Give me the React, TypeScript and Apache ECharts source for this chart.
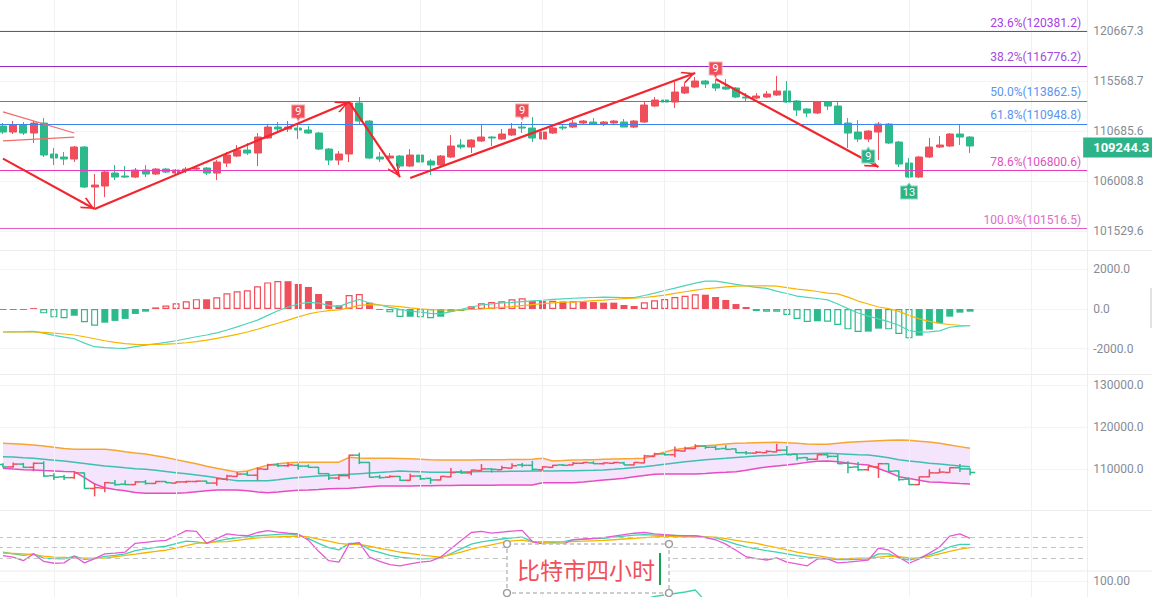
import React, { useEffect, useRef } from 'react';
import * as echarts from 'echarts';

// ---------- DATA ----------
// 4H candles: [open, close, low, high]
const candles: number[][] = [
  [111141, 110567, 110377, 111430], [110567, 111238, 110377, 111622], [111238, 110472, 110282, 111526], [110472, 111430, 109523, 111622],
  [111430, 108394, 108207, 111911], [108488, 108113, 107463, 109051], [108207, 108020, 107463, 108675], [108020, 109145, 107741, 109240],
  [109145, 105441, 105350, 109240], [105441, 105624, 103547, 106631], [105532, 106815, 104535, 106999], [106723, 106355, 106079, 107463],
  [106447, 106355, 106263, 107370], [106355, 106999, 106263, 107185], [106999, 106631, 106355, 107463], [106631, 107092, 106539, 107185],
  [107092, 106815, 106723, 107185], [106723, 106999, 106631, 107092], [106999, 107092, 106723, 107278], [107092, 107185, 106907, 107278],
  [107185, 106723, 106539, 107278], [106723, 107741, 106079, 107926], [107648, 108394, 107278, 108675], [108300, 108862, 108207, 109334],
  [108862, 108581, 108394, 109523], [108581, 110091, 107370, 110472], [109996, 111045, 109901, 111334], [111045, 110853, 110567, 111526],
  [110853, 111045, 110567, 111622], [110949, 110757, 109901, 111430], [110757, 110472, 110377, 111141], [110472, 108956, 108862, 110567],
  [108956, 107926, 107463, 109051], [107926, 108488, 107463, 108770], [108488, 113370, 107741, 113468], [113370, 111622, 111238, 113958],
  [111622, 108113, 108020, 111718], [108207, 108020, 107741, 108675], [108113, 108300, 108020, 108581], [108300, 107370, 107185, 108394],
  [107370, 108394, 107278, 108956], [108394, 107741, 107463, 108675], [107833, 107463, 106539, 108020], [107463, 108300, 107370, 108394],
  [108207, 109240, 108113, 110282], [109334, 109145, 108956, 109901], [109145, 109806, 108581, 109901], [109712, 110091, 109617, 111238],
  [110091, 109996, 109240, 110186], [109901, 110377, 109806, 110853], [110282, 110853, 110186, 111430], [111045, 110949, 110472, 111526],
  [110949, 109996, 109617, 112008], [109901, 110567, 109712, 110757], [110472, 110949, 110377, 111045], [111045, 110949, 110757, 111238],
  [111045, 111430, 110949, 111718], [111430, 111622, 111334, 111718], [111526, 111334, 111238, 111911], [111334, 111526, 111141, 111622],
  [111430, 111622, 111334, 111718], [111526, 111045, 111045, 111814], [111045, 111622, 110949, 111718], [111526, 113175, 111430, 113468],
  [113077, 113663, 112980, 113958], [113663, 113468, 113273, 113958], [113468, 114451, 112882, 115444], [114352, 114946, 114254, 115345],
  [114946, 115543, 114847, 115943], [115543, 115245, 114847, 115643], [115245, 114847, 114549, 115643], [114946, 114747, 114648, 115743],
  [114847, 113958, 113860, 114946], [113958, 113860, 113468, 114352], [113860, 114057, 113762, 114352], [113958, 114254, 113860, 114549],
  [114155, 114549, 114057, 116043], [114549, 113468, 113370, 115543], [113565, 112686, 112105, 113663], [112784, 112396, 112008, 112882],
  [112396, 113468, 112300, 113565], [113468, 113077, 112686, 113565], [113077, 111334, 111238, 113565], [111430, 110472, 109051, 111911],
  [110567, 109901, 109617, 111718], [109901, 110662, 109617, 110757], [110567, 111334, 107926, 111526], [111334, 109523, 109428, 111430],
  [109617, 107555, 107278, 109712], [107648, 106355, 106263, 108113], [106355, 108207, 106263, 108300], [108207, 109145, 108113, 109996],
  [109145, 109334, 109051, 110186], [109240, 110377, 109145, 110472], [110377, 110091, 109334, 111238], [110091, 109244.3, 108581, 110186],
];
const lastPrice = 109244.3;

const priceTicks = [101529.6, 106008.8, 110685.6, 115568.7, 120667.3];
const fibLevels = ['23.6%', '38.2%', '50.0%', '61.8%', '78.6%', '100.0%'];
const fibValues = [120381.2, 116776.2, 113862.5, 110948.8, 106800.6, 101516.5];

// TD sequential marks
const tdIndex = [29, 51, 70, 85, 89];
const tdText = ['9', '9', '9', '9', '13'];
const tdAbove = [true, true, true, false, false];

// hand-drawn trend arrows: [[fromIndex, fromPrice], [toIndex, toPrice]]
const trendArrows = [
  [[0, 108057], [9, 103458]],
  [[9, 103458], [34, 113468]],
  [[34, 113468], [39, 106355]],
  [[40, 106263], [68, 116342]],
  [[70, 115741], [86, 107277]],
];
const wedgeLines = [
  [[0, 112502], [7, 110472]],
  [[0, 109730], [7, 110091]],
];

const macdHist = [
  -50, -50, -50, 45, -220, -420, -470, -340, -670, -840, -690, -600,
  -500, -250, -135, 80, 170, 285, 385, 495, 490, 590, 790, 890,
  940, 1140, 1340, 1410, 1400, 1260, 1110, 755, 400, 185, 705, 755,
  320, -50, -170, -400, -390, -420, -470, -390, -135, -100, 135, 285,
  350, 385, 490, 540, 400, 400, 410, 380, 390, 370, 350, 320,
  320, 200, 150, 335, 440, 505, 605, 670, 740, 720, 605, 455,
  250, 100, -105, -135, -140, -300, -500, -655, -620, -640, -805, -1025,
  -1160, -1140, -990, -1025, -1260, -1480, -1345, -1040, -720, -385, -185, -135,
];
const macdDif = [
  -1160, -1150, -1140, -1125, -1220, -1330, -1420, -1500, -1720, -1900, -1950, -1975,
  -1980, -1900, -1820, -1750, -1680, -1600, -1500, -1400, -1310, -1200, -1060, -900,
  -730, -560, -320, -90, 100, 250, 330, 300, 180, 120, 320, 480,
  300, 200, 80, -20, -100, -160, -220, -250, -130, -20, 100, 200,
  260, 310, 330, 370, 410, 440, 480, 510, 540, 560, 580, 600,
  590, 580, 570, 680, 800, 930, 1050, 1180, 1300, 1400, 1400, 1330,
  1240, 1160, 1090, 1040, 900, 780, 650, 590, 530, 460, 250, 20,
  -200, -360, -500, -640, -820, -1080, -1170, -1150, -1100, -920, -860, -840,
];
const macdDea = [
  -1160, -1160, -1160, -1160, -1180, -1220, -1260, -1310, -1400, -1500, -1600, -1680,
  -1740, -1780, -1790, -1780, -1770, -1740, -1700, -1640, -1570, -1480, -1380, -1280,
  -1160, -1020, -860, -720, -560, -400, -250, -150, -80, -40, 60, 180,
  220, 200, 160, 120, 60, 10, -30, -50, -50, -40, -20, 0,
  40, 80, 120, 170, 220, 270, 310, 340, 350, 380, 420, 450,
  490, 520, 540, 580, 640, 700, 790, 870, 950, 1020, 1060, 1110,
  1150, 1160, 1160, 1160, 1150, 1080, 1000, 950, 880, 800, 760, 600,
  400, 250, 100, 20, -120, -320, -500, -620, -720, -780, -820, -840,
];
const macdTicks = [-2000, 0, 2000];

const bollUpper = [
  116180, 116100, 115950, 115800, 115550, 115250, 114950, 114750, 114750, 114750, 114750, 114550,
  114200, 113900, 113640, 113250, 112800, 112300, 111800, 111300, 110750, 110230, 109800, 109380,
  109600, 110300, 111000, 111300, 111550, 111650, 111660, 111660, 111660, 111700, 112850, 112700,
  112610, 112610, 112610, 112600, 112500, 112400, 112300, 112210, 112210, 112210, 112210, 112250,
  112280, 112300, 112330, 112350, 112370, 112610, 112000, 112100, 112210, 112250, 112300, 112400,
  112450, 112500, 112550, 112610, 113400, 114100, 114700, 115000, 115400, 115620, 115800, 116000,
  116180, 116250, 116350, 116400, 116420, 116350, 116200, 116050, 115950, 115940, 116200, 116450,
  116580, 116700, 116800, 116900, 116980, 116900, 116700, 116500, 116180, 115800, 115400, 114990,
];
const bollMid = [
  113010, 112900, 112750, 112620, 112400, 112180, 111950, 111700, 111400, 111100, 110800, 110580,
  110360, 110150, 110000, 109750, 109480, 109200, 108950, 108650, 108350, 108000, 107600, 107300,
  107290, 107290, 107290, 107500, 107800, 108050, 108250, 108400, 108550, 108700, 108800, 108950,
  109100, 109250, 109400, 109580, 109500, 109400, 109300, 109280, 109320, 109380, 109440, 109460,
  109480, 109500, 109520, 109540, 109570, 109600, 109620, 109650, 109670, 109710, 109750, 109820,
  110000, 110200, 110430, 110630, 110900, 111200, 111500, 111800, 112050, 112250, 112450, 112620,
  112800, 112980, 113170, 113300, 113420, 113560, 113640, 113700, 113760, 113800, 113700, 113600,
  113480, 113380, 113100, 112750, 112300, 112000, 111750, 111450, 111250, 111000, 110800, 110630,
];
const bollLower = [
  110230, 110050, 109900, 109830, 109700, 109600, 109500, 109440, 108000, 106500, 105600, 105200,
  104900, 104500, 104280, 104280, 104280, 104280, 104400, 104650, 104900, 105070, 105070, 105070,
  104900, 104600, 104440, 104600, 104850, 105000, 105070, 105200, 105350, 105450, 105470, 105650,
  105850, 106030, 106030, 106030, 106050, 106080, 106100, 106130, 106160, 106180, 106180, 106200,
  106220, 106240, 106250, 106260, 106260, 106820, 106820, 106820, 106820, 107000, 107200, 107450,
  107650, 107850, 108200, 108500, 108800, 108880, 108880, 108880, 108880, 109000, 109200, 109300,
  109440, 109800, 110200, 110550, 110800, 111020, 111300, 111650, 111900, 111980, 111800, 111500,
  111200, 111020, 110200, 109300, 108250, 107800, 107400, 107000, 106900, 106750, 106600, 106500,
];
const bollTicks = [110000, 120000, 130000];

const kdjK = [
  38, 33, 29, 33, 21, 20, 19, 27, 18, 20, 26, 29,
  33, 42, 47, 51, 54, 61, 68, 66, 62, 68, 74, 77,
  80, 83, 85, 87, 88, 85, 75, 62, 50, 44, 62, 62,
  45, 37, 29, 24, 21, 19, 20, 22, 34, 47, 60, 66,
  70, 74, 77, 79, 67, 66, 65, 66, 72, 73, 75, 76,
  79, 82, 85, 86, 85, 84, 84, 83, 83, 80, 77, 69,
  60, 52, 47, 42, 38, 33, 28, 24, 22, 20, 17, 17,
  18, 19, 33, 33, 22, 16, 22, 30, 40, 52, 59, 59,
];
const kdjD = [
  35, 34, 33, 31, 27, 24, 23, 22, 21, 21, 21, 25,
  29, 32, 36, 40, 43, 49, 56, 62, 64, 66, 67, 70,
  74, 77, 79, 80, 81, 82, 80, 74, 68, 62, 59, 59,
  54, 48, 43, 38, 34, 30, 27, 24, 31, 38, 46, 52,
  58, 64, 69, 71, 66, 65, 66, 66, 67, 68, 69, 70,
  72, 74, 76, 78, 80, 81, 81, 80, 80, 79, 79, 75,
  70, 66, 62, 56, 50, 44, 38, 33, 28, 23, 19, 20,
  21, 21, 24, 27, 25, 22, 21, 26, 33, 40, 46, 50,
];
const kdjJ = [
  28, 24, 14, 33, 12, 7, 8, 27, 8, 20, 33, 35,
  38, 62, 65, 68, 70, 83, 97, 95, 62, 75, 88, 85,
  83, 92, 97, 93, 90, 88, 71, 40, 14, 10, 60, 64,
  24, 12, 3, 0, 5, 10, 13, 24, 47, 70, 92, 95,
  90, 93, 96, 98, 67, 60, 60, 60, 72, 74, 76, 78,
  82, 86, 90, 92, 88, 86, 84, 83, 83, 78, 72, 60,
  43, 25, 20, 16, 22, 10, 5, 0, 19, 19, 8, 10,
  13, 16, 49, 43, 24, 7, 19, 35, 52, 82, 88, 76,
];
const kdjLevels = [20, 50, 80];

const subLine = [
  42, 40, 38, 41, 36, 33, 31, 30, 26, 24, 27, 30,
  32, 35, 38, 40, 42, 45, 48, 50, 49, 51, 53, 55,
  56, 58, 57, 55, 54, 52, 49, 46, 43, 41, 45, 47,
  44, 40, 37, 35, 34, 33, 32, 34, 37, 40, 43, 46,
  48, 50, 52, 53, 51, 50, 50, 51, 52, 53, 54, 55,
  55, 56, 58, 64, 69, 72, 75, 78, 82, 60, 50, 45,
  40, 36, 33, 30, 28, 26, 25, 24, 23, 22, 21, 20,
  20, 21, 22, 21, 20, 19, 21, 24, 27, 30, 33, 35,
];
const subTicks = [100];

const gridMarks = [5, 17, 29, 41, 53, 65, 77, 89, 101];
const noteText = '比特市四小时';

// ---------- STYLE ----------
const UP = '#ef4f5b';
const DOWN = '#2cba8c';
const AXIS_TEXT = '#868c96';
const FONT = 'Roboto, "Noto Sans", sans-serif';
const fibLineColors = ['#a123e0', '#9428c8', '#3c82f0', '#3c82f0', '#e83cc0', '#e35ec6'];
const fibTextColors = ['#a83ce8', '#a24ce0', '#5a93f2', '#5a93f2', '#e052c0', '#e06cc6'];
const ARROW_HEAD = 'path://M10,-14L10,-14M10,0L0,12L1.8,13.6L10,3.4L18.2,13.6L20,12Z';
const PIN_DOWN = 'path://M0,0L14,0L14,13L9,13L7,16L5,13L0,13Z';
const PIN_UP = 'path://M0,3L5,3L7,0L9,3L14,3L14,16L0,16Z';

const N_SLOTS = 107;
const BAND = 10.18;
const GRID_LEFT = 3 - BAND / 2;
const GRID_WIDTH = N_SLOTS * BAND;
const slots = Array.from({ length: N_SLOTS }, (_, i) => 'K' + (i + 1));

export default function App() {
  const ref = useRef<HTMLDivElement>(null);

  useEffect(() => {
    if (!ref.current) return;
    const chart = echarts.init(ref.current, null, { renderer: 'svg' });
    const ln = (v: number) => Math.log(v);

    const panels = [
      { top: 0, height: 250 },
      { top: 250, height: 124 },
      { top: 374, height: 136 },
      { top: 510, height: 61 },
      { top: 571, height: 70 },
    ];

    const vGrid = gridMarks.map((i) => ({
      xAxis: i,
      lineStyle: { color: '#f1f1f3', width: 1, type: 'solid' },
    }));

    const yAx = (k: number, min: number, max: number, ticks: number[], fmt: any, show = true) => ({
      type: 'value',
      gridIndex: k,
      position: 'right',
      min,
      max,
      scale: true,
      axisLine: { show: true, lineStyle: { color: '#eeeeee' } },
      axisTick: { show: false, customValues: ticks },
      axisLabel: {
        show,
        customValues: ticks,
        formatter: fmt,
        color: AXIS_TEXT,
        fontSize: 12,
        fontFamily: FONT,
        margin: 6,
      },
      splitLine: { show, lineStyle: { color: '#f4f4f6', width: 1 } },
    });

    const macdBars = macdHist.map((v, i) => {
      const prev = i > 0 ? macdHist[i - 1] : v;
      const hollow = i > 0 && Math.abs(v) > Math.abs(prev);
      const c = v >= 0 ? UP : DOWN;
      return {
        value: v,
        itemStyle: { color: hollow ? '#ffffff' : c, borderColor: c, borderWidth: hollow ? 1.2 : 0 },
      };
    });

    const arrowLines = trendArrows.map((a) => [
      { coord: [a[0][0], ln(a[0][1])], symbol: 'none', lineStyle: { color: '#f2262e', width: 2.2, type: 'solid' } },
      { coord: [a[1][0], ln(a[1][1])], symbol: ARROW_HEAD, symbolSize: [12, 28] },
    ]);
    const wedges = wedgeLines.map((a) => [
      { coord: [a[0][0], ln(a[0][1])], symbol: 'none', lineStyle: { color: '#f26a6a', width: 1.2, type: 'solid' } },
      { coord: [a[1][0], ln(a[1][1])], symbol: 'none' },
    ]);

    const fibMarks = fibValues.map((v, i) => ({
      name: fibLevels[i] + '(' + v.toFixed(1) + ')',
      yAxis: ln(v),
      lineStyle: { color: fibLineColors[i], width: 1, type: 'solid' },
      label: {
        show: true,
        position: 'insideEndTop',
        formatter: '{b}',
        color: fibTextColors[i],
        fontSize: 12,
        fontFamily: FONT,
        distance: [6, 3],
      },
    }));

    const tdMarks = tdIndex.map((idx, k) => ({
      coord: [idx, ln(tdAbove[k] ? candles[idx][3] : candles[idx][2])],
      symbol: tdAbove[k] ? PIN_DOWN : PIN_UP,
      symbolSize: [tdText[k].length > 1 ? 17 : 13, 16],
      symbolOffset: [0, tdAbove[k] ? -10 : 13],
      itemStyle: {
        color: tdAbove[k] ? '#ef4f5b' : '#2db389',
        borderColor: tdAbove[k] ? '#f7a9b0' : '#95dcc3',
        borderWidth: 1,
      },
      label: {
        show: true,
        formatter: tdText[k],
        color: '#ffffff',
        fontSize: 11,
        fontFamily: FONT,
        offset: [0, tdAbove[k] ? -1.5 : 1.5],
      },
    }));

    const lineS = (k: number, data: number[], color: string, width = 1.3, extra: any = {}) => ({
      type: 'line',
      xAxisIndex: k,
      yAxisIndex: k,
      data,
      symbol: 'none',
      showSymbol: false,
      silent: true,
      lineStyle: { color, width },
      ...extra,
    });

    const option: any = {
      animation: false,
      backgroundColor: '#ffffff',
      grid: panels.map((p) => ({
        left: GRID_LEFT,
        width: GRID_WIDTH,
        top: p.top,
        height: p.height,
        containLabel: false,
        outerBoundsMode: 'none',
      })),
      xAxis: panels.map((_, k) => ({
        type: 'category',
        gridIndex: k,
        data: slots,
        boundaryGap: true,
        axisLine: { show: false },
        axisTick: { show: false },
        axisLabel: { show: false },
        splitLine: { show: false },
      })),
      yAxis: [
        yAx(0, ln(99864), ln(123912), priceTicks.map(ln), (v: number) => Math.exp(v).toFixed(1)),
        yAx(1, -3275, 2972, macdTicks, (v: number) => v.toFixed(1)),
        yAx(2, 100309, 132691, bollTicks, (v: number) => v.toFixed(1)),
        yAx(3, -14.4, 154.2, [], (v: number) => v.toFixed(2), false),
        yAx(4, -20, 120, subTicks, (v: number) => v.toFixed(2)),
      ],
      series: [
        {
          type: 'candlestick',
          name: 'BTC 4H',
          xAxisIndex: 0,
          yAxisIndex: 0,
          data: candles.map((c) => c.map(ln)),
          barWidth: 7.5,
          itemStyle: { color: UP, color0: DOWN, borderColor: UP, borderColor0: DOWN, borderWidth: 1 },
          markLine: {
            silent: true,
            symbol: ['none', 'none'],
            label: { show: false },
            emphasis: { disabled: true },
            data: [...vGrid, ...fibMarks, ...wedges, ...arrowLines],
          },
          markPoint: { silent: true, data: tdMarks },
        },
        // current price tag on the price axis
        {
          type: 'line',
          name: 'last',
          xAxisIndex: 0,
          yAxisIndex: 0,
          data: [],
          silent: true,
          markLine: {
            silent: true,
            symbol: ['none', 'none'],
            emphasis: { disabled: true },
            lineStyle: { color: 'rgba(0,0,0,0)', width: 1 },
            label: {
              show: true,
              position: 'end',
              formatter: lastPrice.toFixed(1),
              color: '#ffffff',
              backgroundColor: '#2db389',
              fontWeight: 'bold',
              fontSize: 13,
              fontFamily: FONT,
              padding: [4, 8, 3, 10],
              distance: -4,
            },
            data: [{ yAxis: ln(lastPrice) }],
          },
        },
        // MACD
        {
          type: 'bar',
          xAxisIndex: 1,
          yAxisIndex: 1,
          data: macdBars,
          barWidth: 7,
          silent: true,
          markLine: { silent: true, symbol: ['none', 'none'], label: { show: false }, data: vGrid },
        },
        lineS(1, macdDif, '#4ed4b8', 1.2),
        lineS(1, macdDea, '#f7b500', 1.2),
        // Bollinger band fill
        lineS(2, bollLower, '#e84cc0', 0, {
          stack: 'band',
          z: 1,
          lineStyle: { opacity: 0, width: 0 },
          markLine: { silent: true, symbol: ['none', 'none'], label: { show: false }, data: vGrid },
        }),
        lineS(2, bollUpper.map((u, i) => u - bollLower[i]), '#f4e5fc', 0, {
          stack: 'band',
          z: 1,
          lineStyle: { opacity: 0, width: 0 },
          areaStyle: { color: '#f4e5fc', opacity: 1 },
        }),
        lineS(2, bollUpper, '#f7a531', 1.5),
        lineS(2, bollMid, '#3fbfb0', 1.5),
        lineS(2, bollLower, '#e84cc0', 1.5),
        {
          type: 'custom',
          xAxisIndex: 2,
          yAxisIndex: 2,
          silent: true,
          z: 5,
          data: candles.map((c, i) => [i, c[0], c[1], c[2], c[3]]),
          encode: { x: 0, y: [1, 2, 3, 4] },
          renderItem: (params: any, api: any) => {
            const i = api.value(0);
            const o = api.value(1);
            const c = api.value(2);
            const l = api.value(3);
            const h = api.value(4);
            const pO = api.coord([i, o]);
            const pC = api.coord([i, c]);
            const pL = api.coord([i, l]);
            const pH = api.coord([i, h]);
            const w = api.size([1, 0])[0] * 0.5;
            const stroke = c >= o ? UP : DOWN;
            const st = { stroke, lineWidth: 1.5, fill: 'none' };
            return {
              type: 'group',
              children: [
                { type: 'line', shape: { x1: pL[0], y1: pL[1], x2: pH[0], y2: pH[1] }, style: st },
                { type: 'line', shape: { x1: pO[0] - w, y1: pO[1], x2: pO[0], y2: pO[1] }, style: st },
                { type: 'line', shape: { x1: pC[0], y1: pC[1], x2: pC[0] + w, y2: pC[1] }, style: st },
              ],
            };
          },
        },
        // KDJ
        lineS(3, kdjK, '#3dd3b0', 1.3, {
          markLine: {
            silent: true,
            symbol: ['none', 'none'],
            label: { show: false },
            data: [
              ...vGrid,
              ...kdjLevels.map((v) => ({ yAxis: v, lineStyle: { color: '#c4c4c4', width: 1, type: [5, 4] } })),
            ],
          },
        }),
        lineS(3, kdjD, '#f6b400', 1.3),
        lineS(3, kdjJ, '#e55ad4', 1.3),
        // lower indicator (mostly out of view)
        lineS(4, subLine, '#3dd3b0', 1.3, {
          markLine: { silent: true, symbol: ['none', 'none'], label: { show: false }, data: vGrid },
        }),
      ],
      graphic: [
        ...[250.5, 374.5, 510.5, 571].map((y) => ({
          type: 'line',
          silent: true,
          shape: { x1: 0, y1: y, x2: 1152, y2: y },
          style: { stroke: '#ececec', lineWidth: 1 },
        })),
        { type: 'rect', silent: true, shape: { x: 1150, y: 288, width: 2, height: 40 }, style: { fill: '#e2e2e2' } },
        {
          type: 'rect',
          z: 100,
          shape: { x: 507, y: 544, width: 162, height: 49 },
          style: { fill: '#ffffff', stroke: '#bdbdbd', lineWidth: 1.5, lineDash: [4, 3] },
        },
        ...[
          [507, 544],
          [669, 544],
          [507, 593],
          [669, 593],
        ].map((p) => ({
          type: 'circle',
          z: 101,
          shape: { cx: p[0], cy: p[1], r: 3.5 },
          style: { fill: '#ffffff', stroke: '#9e9e9e', lineWidth: 1.5 },
        })),
        {
          type: 'text',
          z: 101,
          x: 517,
          y: 569,
          style: {
            text: noteText,
            fill: '#f0505a',
            fontSize: 23,
            fontFamily: '"Noto Sans CJK SC", sans-serif',
            verticalAlign: 'middle',
            align: 'left',
          },
        },
        {
          type: 'line',
          z: 101,
          shape: { x1: 660, y1: 553, x2: 660, y2: 585 },
          style: { stroke: '#17a554', lineWidth: 2 },
        },
      ],
    };

    chart.setOption(option);
    return () => chart.dispose();
  }, []);

  return (
    <div
      ref={ref}
      style={{ position: 'absolute', left: 0, top: 0, width: 1152, height: 597, background: '#ffffff' }}
    />
  );
}
